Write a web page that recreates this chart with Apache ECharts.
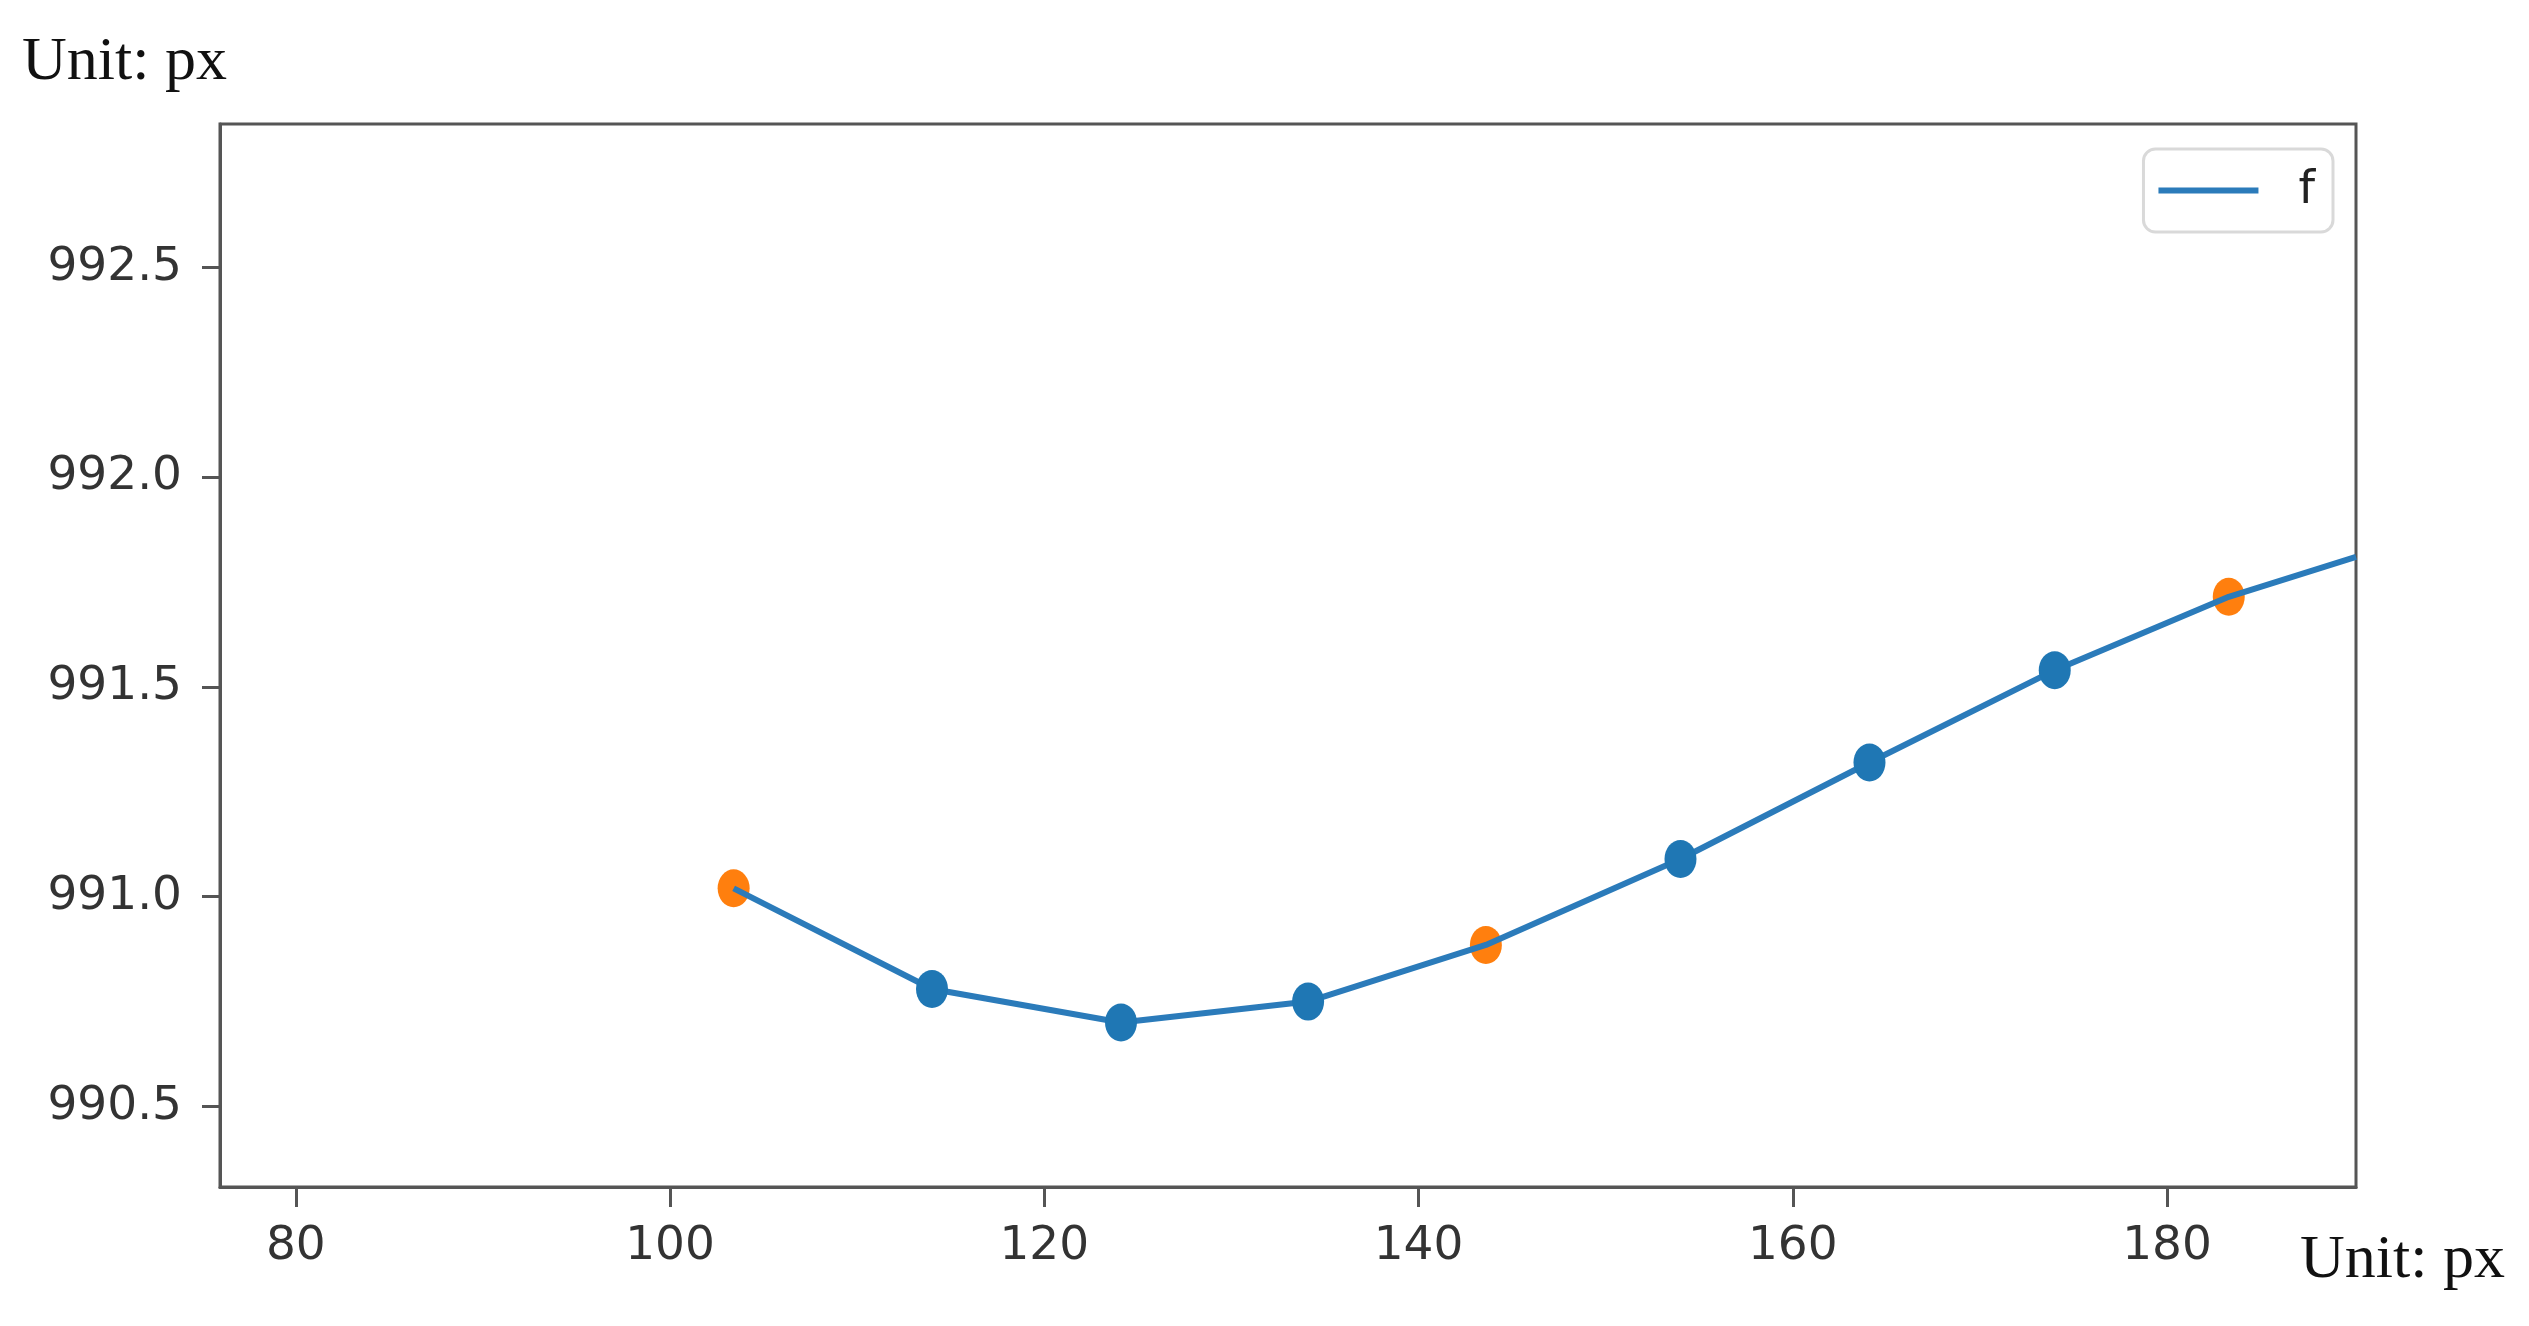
<!DOCTYPE html>
<html>
<head>
<meta charset="utf-8">
<script src="https://cdn.jsdelivr.net/npm/echarts@6/dist/echarts.min.js"></script>
<style>html,body{margin:0;padding:0;background:#fff}#c{width:2529px;height:1326px}</style>
</head>
<body>
<div id="c"></div>
<script>
// Data
const lineX = [103.4, 114.0, 124.1, 134.1, 143.6, 154.0, 164.1, 174.0, 183.3, 190.1];
const lineY = [991.02, 990.78, 990.70, 990.75, 990.885, 991.09, 991.32, 991.54, 991.715, 991.81];
const blueX = [114.0, 124.1, 134.1, 154.0, 164.1, 174.0];
const blueY = [990.78, 990.70, 990.75, 991.09, 991.32, 991.54];
const orangeX = [103.4, 143.6, 183.3];
const orangeY = [991.02, 990.885, 991.715];
const xTicks = [80, 100, 120, 140, 160, 180];
const yTicks = [990.5, 991.0, 991.5, 992.0, 992.5];
const xRange = [75.95, 190.1];
const yRange = [990.308, 992.842];
const seriesName = 'f';
const unitText = 'Unit: px';

const zip = (a, b) => a.map((v, i) => [v, b[i]]);
const axisCol = '#555';
const labelFont = 'DejaVu Sans';

const chart = echarts.init(document.getElementById('c'), null, {renderer: 'canvas'});
chart.setOption({
  animation: false,
  backgroundColor: '#fff',
  grid: {left: 220, right: 173, top: 124, bottom: 139, show: true, borderColor: axisCol, borderWidth: 3, backgroundColor: 'transparent'},
  xAxis: {
    type: 'value', min: xRange[0], max: xRange[1],
    axisLine: {show: true, onZero: false, lineStyle: {color: axisCol, width: 3}},
    axisTick: {show: true, length: 20, lineStyle: {color: axisCol, width: 3}, customValues: xTicks},
    axisLabel: {customValues: xTicks, margin: 36, fontFamily: labelFont, fontSize: 47, color: '#333',
      formatter: v => String(Math.round(v))},
    splitLine: {show: false}
  },
  yAxis: {
    type: 'value', min: yRange[0], max: yRange[1],
    axisLine: {show: true, onZero: false, lineStyle: {color: axisCol, width: 3}},
    axisTick: {show: true, length: 18, lineStyle: {color: axisCol, width: 3}, customValues: yTicks},
    axisLabel: {customValues: yTicks, margin: 38, fontFamily: labelFont, fontSize: 47, color: '#333',
      formatter: v => v.toFixed(1)},
    splitLine: {show: false}
  },
  legend: {
    show: true, right: 196, top: 149, orient: 'vertical',
    data: [{name: seriesName, icon: 'rect'}],
    itemWidth: 100, itemHeight: 6,
    padding: [18, 18, 18, 15],
    borderColor: '#d9d9d9', borderWidth: 3, borderRadius: 12, backgroundColor: '#fff',
    textStyle: {fontFamily: labelFont, fontSize: 47, color: '#222', padding: [0, 0, 0, 35]},
    itemStyle: {color: '#2b7bba'}
  },
  graphic: [
    {type: 'text', left: 22, top: 32, style: {text: unitText, font: '62px "Liberation Serif"', fill: '#111'}},
    {type: 'text', left: 2300, top: 1230, style: {text: unitText, font: '62px "Liberation Serif"', fill: '#111'}}
  ],
  series: [
    {name: seriesName, type: 'line', data: zip(lineX, lineY), showSymbol: false, symbol: 'none',
      lineStyle: {color: '#2b7bba', width: 6}, itemStyle: {color: '#2b7bba'}, clip: true, z: 2},
    {name: 'samples', type: 'scatter', data: zip(blueX, blueY), symbol: 'circle', symbolSize: [32, 38],
      itemStyle: {color: '#1f77b4', opacity: 1}, z: 3},
    {name: 'knots', type: 'scatter', data: zip(orangeX, orangeY), symbol: 'circle', symbolSize: [32, 38],
      itemStyle: {color: '#ff7f0e', opacity: 1}, z: 1}
  ]
});
</script>
</body>
</html>
